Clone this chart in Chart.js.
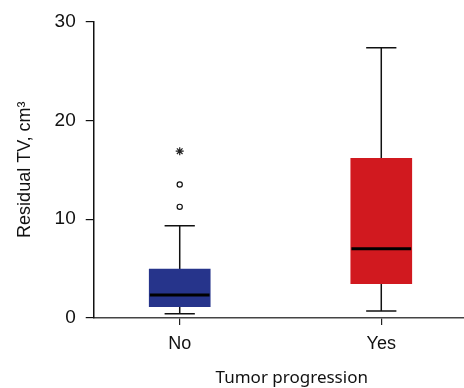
<!DOCTYPE html>
<html>
<head>
<meta charset="utf-8">
<script src="https://cdn.jsdelivr.net/npm/chart.js@4"></script>
<style>
  html, body { margin: 0; padding: 0; background: #fff; overflow: hidden; }
  #wrap { width: 495px; height: 388px; position: relative; }
</style>
</head>
<body>
<div id="wrap"><canvas id="grafico"></canvas></div>
<script>
// dati
var categories = ['No', 'Yes'];
var q1 = [1.14, 3.46];
var q3 = [4.95, 16.16];
var medians = [2.32, 7.0];
var whiskerLow = [0.43, 0.71];
var whiskerHigh = [9.32, 27.34];
var outliers = [[11.24, 13.5], []];
var extremes = [[16.87], []];
var yTicks = [0, 10, 20, 30];

var boxColors = ['#26348B', '#D1191F'];
var capHalf = 0.075;
var medHalf = 0.148;

var datasets = [];

// scatole (barre flottanti)
datasets.push({
  type: 'bar',
  data: categories.map(function (c, i) { return { x: i, y: [q1[i], q3[i]] }; }),
  backgroundColor: boxColors,
  borderWidth: 0,
  barThickness: 61,
  order: 5
});

// baffi, cappucci e mediane
categories.forEach(function (c, i) {
  datasets.push({
    type: 'line',
    data: [{ x: i, y: whiskerLow[i] }, { x: i, y: whiskerHigh[i] }],
    borderColor: '#111', borderWidth: 1.5, pointRadius: 0, order: 10
  });
  [whiskerLow[i], whiskerHigh[i]].forEach(function (v) {
    datasets.push({
      type: 'line',
      data: [{ x: i - capHalf, y: v }, { x: i + capHalf, y: v }],
      borderColor: '#111', borderWidth: 1.5, pointRadius: 0, order: 10
    });
  });
  datasets.push({
    type: 'line',
    data: [{ x: i - medHalf, y: medians[i] }, { x: i + medHalf, y: medians[i] }],
    borderColor: '#000', borderWidth: 3, pointRadius: 0, order: 1
  });
});

// valori anomali
var outPts = [];
var extPts = [];
categories.forEach(function (c, i) {
  outliers[i].forEach(function (v) { outPts.push({ x: i, y: v }); });
  extremes[i].forEach(function (v) { extPts.push({ x: i, y: v }); });
});
datasets.push({
  type: 'scatter', data: outPts, pointStyle: 'circle', pointRadius: 2.6,
  backgroundColor: '#fff', borderColor: '#111', borderWidth: 1.2, order: 0
});
datasets.push({
  type: 'scatter', data: extPts, pointStyle: 'star', pointRadius: 4,
  borderColor: '#222', borderWidth: 1.2, order: 0
});

var ctx = document.getElementById('grafico').getContext('2d');
var grafico = new Chart(ctx, {
  data: { datasets: datasets },
  options: {
    responsive: true,
    maintainAspectRatio: false,
    animation: false,
    layout: { padding: { top: 15, right: 0, bottom: 0, left: 0 } },
    plugins: { legend: { display: false }, tooltip: { enabled: false } },
    scales: {
      x: {
        type: 'linear',
        offset: false,
        min: -0.4266,
        max: 1.5384,
        afterBuildTicks: function (axis) {
          axis.ticks = categories.map(function (c, i) { return { value: i }; });
        },
        ticks: {
          color: '#111',
          font: { family: 'Liberation Sans', size: 18 },
          padding: 8,
          callback: function (v) { return categories[v]; }
        },
        grid: { offset: false, drawOnChartArea: false, tickLength: 7, color: '#222', lineWidth: 1.2 },
        border: { color: '#444', width: 1.5 },
        title: {
          display: true,
          text: 'Tumor progression',
          color: '#111',
          font: { family: 'Noto Sans', size: 17 },
          padding: { top: 5, bottom: 0 }
        }
      },
      y: {
        type: 'linear',
        min: 0,
        max: 30,
        afterBuildTicks: function (axis) {
          axis.ticks = yTicks.map(function (v) { return { value: v }; });
        },
        ticks: {
          color: '#111',
          font: { family: 'Liberation Sans', size: 19 },
          padding: 10
        },
        grid: { drawOnChartArea: false, tickLength: 8, color: '#111', lineWidth: 1.2 },
        border: { color: '#111', width: 1.5 },
        title: {
          display: true,
          text: 'Residual TV, cm³',
          color: '#111',
          font: { family: 'Liberation Sans', size: 18 },
          padding: { top: 14, bottom: 9 }
        }
      }
    }
  }
});
</script>
</body>
</html>
